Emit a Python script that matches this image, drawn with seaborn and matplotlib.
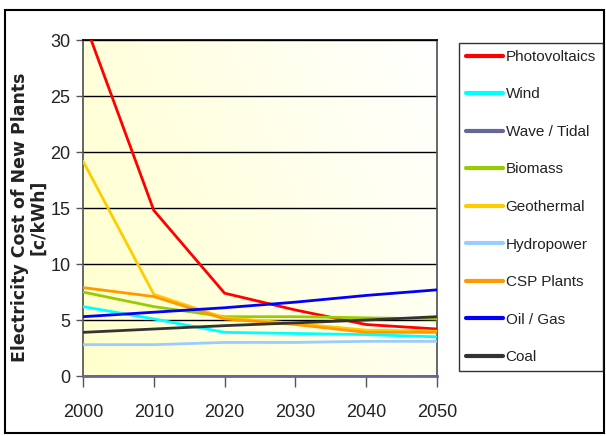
import numpy as np
import pandas as pd
import matplotlib
matplotlib.use("Agg")
import matplotlib.pyplot as plt
import matplotlib.patches as mpatches
import seaborn as sns

years = [2000, 2010, 2020, 2030, 2040, 2050]
sources = ["Photovoltaics", "Wind", "Wave / Tidal", "Biomass", "Geothermal",
           "Hydropower", "CSP Plants", "Oil / Gas", "Coal"]
photovoltaics = [32.0, 14.8, 7.4, 5.9, 4.6, 4.2]
wind = [6.2, 5.1, 3.9, 3.8, 3.7, 3.5]
wave_tidal = [0, 0, 0, 0, 0, 0]
biomass = [7.5, 6.2, 5.3, 5.3, 5.2, 5.1]
geothermal = [19.2, 7.3, 5.2, 4.7, 4.1, 4.0]
hydropower = [2.8, 2.8, 3.0, 3.0, 3.1, 3.1]
csp_plants = [7.9, 7.1, 5.1, 4.6, 3.9, 3.9]
oil_gas = [5.3, 5.7, 6.1, 6.6, 7.2, 7.7]
coal = [3.9, 4.2, 4.5, 4.75, 5.0, 5.3]
colors = ["#ff0000", "#00ffff", "#666699", "#99cc00", "#ffcc00",
          "#99ccff", "#ff9900", "#0000ff", "#333333"]

values = [photovoltaics, wind, wave_tidal, biomass, geothermal,
          hydropower, csp_plants, oil_gas, coal]
df = pd.DataFrame({
    "Year": years * len(sources),
    "Cost": [v for vals in values for v in vals],
    "Source": [s for s in sources for _ in years],
})

sns.set_theme(style="white")
plt.rcParams['font.family'] = ['Liberation Sans', 'DejaVu Sans']

fig = plt.figure(figsize=(6.06, 4.36), dpi=100)
ax = fig.add_axes([0.137, 0.1376, 0.584, 0.770])

# yellow-to-white gradient background
gx, gy = np.meshgrid(np.linspace(0, 1, 200), np.linspace(0, 1, 200))
t = np.clip(0.7 * gx + 0.3 * gy, 0, 1)
c0 = np.array([1.0, 1.0, 0.80])
c1 = np.array([1.0, 1.0, 1.0])
img = c0[None, None, :] * (1 - t[..., None]) + c1[None, None, :] * t[..., None]
ax.imshow(img, extent=[0, 1, 0, 1], transform=ax.transAxes, origin="lower",
          aspect="auto", zorder=0)

for yv in range(5, 31, 5):
    ax.axhline(yv, color="black", lw=1, zorder=1)

sns.lineplot(data=df, x="Year", y="Cost", hue="Source", palette=colors,
             hue_order=sources, linewidth=2, ax=ax, legend=False, zorder=3)

ax.set_xlim(2000, 2050)
ax.set_ylim(0, 30)
ax.set_xticks(years)
ax.set_yticks(range(0, 31, 5))
ax.tick_params(axis="both", labelsize=13, colors="#222222", direction="out")
ax.tick_params(axis="x", length=8, width=1, pad=12, color="#555555")
ax.tick_params(axis="y", length=5, width=1, pad=4, color="#555555")
ax.tick_params(left=True, bottom=True)
for side in ["left", "right", "bottom", "top"]:
    ax.spines[side].set_visible(True)
ax.spines["left"].set_color("#555555")
ax.spines["right"].set_color("#555555")
ax.spines["bottom"].set_color("#666699")
ax.spines["bottom"].set_linewidth(2)
ax.spines["top"].set_color("black")
ax.set_xlabel("")
ax.set_ylabel("Electricity Cost of New Plants\n[c/kWh]", fontsize=12.5,
              fontweight="bold", family=["DejaVu Sans"], color="#222222",
              linespacing=1.05)
ax.yaxis.set_label_coords(-0.10, 0.473)

handles = [plt.Line2D([], [], color=c, lw=3) for c in colors]
leg = fig.legend(handles, sources, loc="upper left",
                 bbox_to_anchor=(459 / 606, 1 - 43 / 436), fontsize=11,
                 frameon=True, fancybox=False, edgecolor="black",
                 handlelength=2.4, handletextpad=0.2, labelspacing=1.54,
                 borderpad=0.45, borderaxespad=0)
leg.get_frame().set_linewidth(1)
for txt in leg.get_texts():
    txt.set_color("#222222")

fig.patches.append(mpatches.Rectangle((5 / 606, 3 / 436), 599 / 606, 423 / 436,
                                      transform=fig.transFigure, fill=False,
                                      edgecolor="black", lw=1.5))

fig.savefig("out.png", dpi=100)
